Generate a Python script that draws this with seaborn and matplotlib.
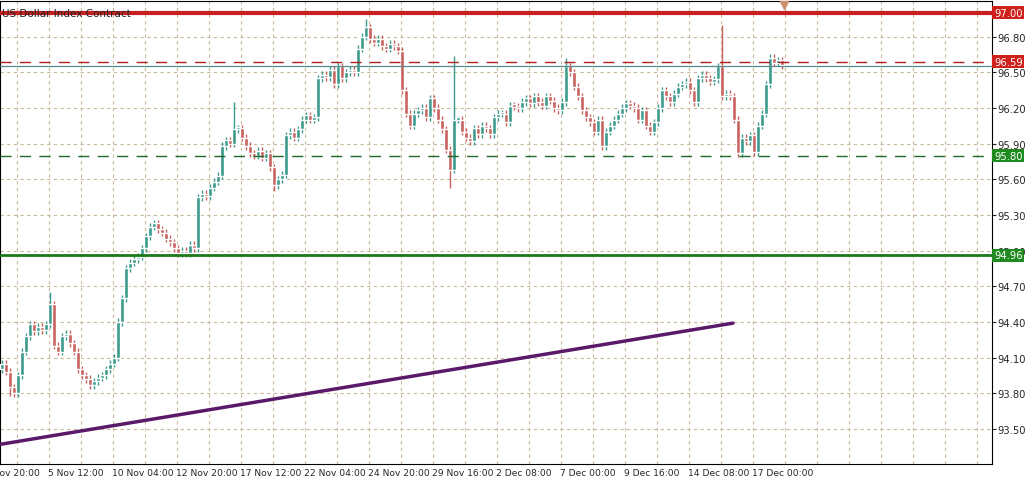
import matplotlib
matplotlib.use("Agg")
import matplotlib.pyplot as plt
import numpy as np
import pandas as pd
import seaborn as sns

sns.set_style("white")
plt.rcParams['font.family'] = ['DejaVu Sans']

# closing prices, one per 4-hour bar
closes = [94.05, 93.98, 93.85, 93.80, 93.95,
          94.15, 94.28, 94.38, 94.32, 94.36,
          94.33, 94.38, 94.55, 94.20, 94.15,
          94.28, 94.30, 94.22, 94.15, 94.00,
          93.95, 93.92, 93.87, 93.90, 93.93,
          93.95, 94.00, 94.05, 94.10, 94.40,
          94.60, 94.85, 94.90, 94.93, 94.95,
          95.02, 95.12, 95.20, 95.23, 95.18,
          95.15, 95.10, 95.07, 95.02, 94.98,
          95.00, 94.98, 95.05, 95.02, 95.45,
          95.48, 95.46, 95.53, 95.58, 95.63,
          95.88, 95.93, 95.90, 96.02, 96.03,
          95.95, 95.88, 95.82, 95.80, 95.84,
          95.78, 95.82, 95.70, 95.55, 95.60,
          95.64, 95.97, 96.00, 95.95, 96.02,
          96.10, 96.14, 96.10, 96.12, 96.45,
          96.48, 96.46, 96.52, 96.40, 96.55,
          96.45, 96.50, 96.52, 96.50, 96.70,
          96.80, 96.88, 96.78, 96.75, 96.78,
          96.72, 96.70, 96.74, 96.72, 96.68,
          96.35, 96.15, 96.05, 96.15, 96.18,
          96.20, 96.12, 96.28, 96.20, 96.10,
          96.02, 95.85, 95.68, 96.10, 96.10,
          96.00, 95.95, 95.92, 96.03, 95.98,
          96.05, 96.03, 95.98, 96.12, 96.15,
          96.15, 96.08, 96.22, 96.21, 96.20,
          96.25, 96.28, 96.24, 96.30, 96.25,
          96.22, 96.30, 96.26, 96.20, 96.18,
          96.25, 96.55, 96.50, 96.38, 96.30,
          96.18, 96.12, 96.08, 96.00, 96.10,
          95.88, 96.00, 96.05, 96.10, 96.15,
          96.20, 96.24, 96.22, 96.20, 96.10,
          96.18, 96.05, 96.00, 96.08, 96.20,
          96.35, 96.30, 96.25, 96.32, 96.38,
          96.40, 96.42, 96.35, 96.25, 96.45,
          96.48, 96.45, 96.42, 96.44, 96.55,
          96.30, 96.32, 96.30, 96.10, 95.82,
          95.95, 95.92, 95.97, 95.83, 96.05,
          96.15, 96.40, 96.62, 96.58, 96.60,
          96.56]
first_open = 94.00
# notable wick extremes: index -> (high, low)
spikes = {12: (94.65, None), 58: (96.25, None), 68: (None, 95.50),
          91: (96.95, None), 112: (None, 95.53), 113: (96.64, None),
          141: (96.62, None), 180: (96.90, None), 2: (None, 93.78)}

date_labels = ["2 Nov 20:00", "5 Nov 12:00", "10 Nov 04:00", "12 Nov 20:00",
               "17 Nov 12:00", "22 Nov 04:00", "24 Nov 20:00", "29 Nov 16:00",
               "2 Dec 08:00", "7 Dec 00:00", "9 Dec 16:00", "14 Dec 08:00",
               "17 Dec 00:00"]
price_ticks = [93.50, 93.80, 94.10, 94.40, 94.70, 95.00, 95.30, 95.60,
               95.90, 96.20, 96.50, 96.80]
levels = [(97.00, "#d0201c"), (96.59, "#d0201c"), (95.80, "#1f8a1f"), (94.96, "#1f8a1f")]
trend_x = [-0.5, 182.75]
trend_y = [93.37, 94.39]

n = len(closes)
opens = [first_open] + closes[:-1]
df = pd.DataFrame({"i": np.arange(n), "open": opens, "close": closes})
df["high"] = df[["open", "close"]].max(axis=1) + 0.03
df["low"] = df[["open", "close"]].min(axis=1) - 0.03
for k, (h, l) in spikes.items():
    if h is not None:
        df.loc[k, "high"] = h
    if l is not None:
        df.loc[k, "low"] = l

fig = plt.figure(figsize=(10.27, 4.89), dpi=100)
ax = fig.add_axes([0.0, 24 / 489, 992 / 1027, 463 / 489])
ax.set_xlim(-0.5, 247.5)
ax.set_ylim(93.205, 97.10)

grid_c = "#c9b99b"
for gx in np.arange(3.7, 247.5, 8):
    ax.axvline(gx, color=grid_c, lw=0.8, ls=(0, (3, 3)), zorder=0)
for gy in price_ticks:
    ax.axhline(gy, color=grid_c, lw=0.8, ls=(0, (3, 3)), zorder=0)

up_c, dn_c = "#3a9a8c", "#c8625e"
colors = np.where(df["close"] >= df["open"], up_c, dn_c)
ax.vlines(df["i"], df["low"], df["high"], colors=colors, lw=1, zorder=3)
ax.bar(df["i"], (df["close"] - df["open"]).abs().clip(lower=0.02),
       bottom=df[["open", "close"]].min(axis=1), width=0.85, color=colors, zorder=4)

# levels
ax.axhline(97.00, color="#c62020", lw=3, zorder=5)
ax.axhline(96.59, color="#b02020", lw=1, ls=(0, (8, 6)), zorder=5)
ax.axhline(96.55, color="#5a8a90", lw=0.9, zorder=5)
ax.axhline(95.80, color="#1f6a2a", lw=1, ls=(0, (8, 6)), zorder=5)
ax.axhline(94.96, color="#1a7a1a", lw=2, zorder=5)

sns.lineplot(x=trend_x, y=trend_y, ax=ax, color="#5a1a6a", lw=2.5, zorder=5)

ax.text(0.002, 0.985, "US Dollar Index Contract", transform=ax.transAxes,
        fontsize=7.5, color="#222222", va="top", ha="left", zorder=6)
ax.plot([195.5], [97.07], marker="v", color="#d09070", ms=6, clip_on=False, zorder=6)

ax.yaxis.tick_right()
ax.set_yticks(price_ticks)
ax.set_yticklabels([f"{v:.2f}" for v in price_ticks], fontsize=7.2)
ax.tick_params(axis="y", length=3, pad=1)
ax.set_xticks([])
for i, lab in enumerate(date_labels):
    ax.text(-4.5 + 16 * i, 93.205 - 0.035, lab, ha="left", va="top",
            fontsize=6.6, clip_on=False)

for val, c in levels:
    ax.text(1.002, val, f"{val:.2f}", transform=ax.get_yaxis_transform(),
            ha="left", va="center", fontsize=7.2, color="white",
            bbox=dict(boxstyle="square,pad=0.15", fc=c, ec="none"), zorder=7)

for s in ax.spines.values():
    s.set_color("black")
    s.set_linewidth(0.8)

fig.savefig("out.png", dpi=100)
